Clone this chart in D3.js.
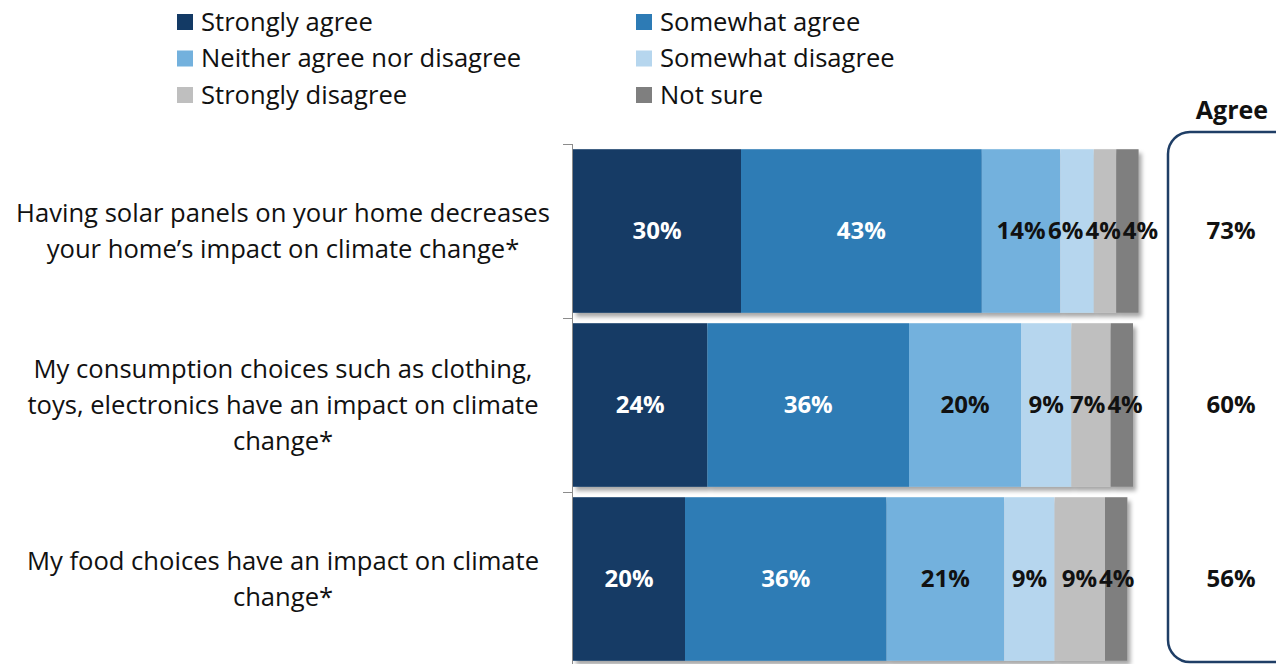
<!DOCTYPE html>
<html>
<head>
<meta charset="utf-8">
<script src="https://cdn.jsdelivr.net/npm/d3@7/dist/d3.min.js"></script>
<style>
  html, body { margin: 0; padding: 0; background: #fff; }
  svg { display: block; font-family: "Open Sans", Lato, sans-serif; }
</style>
</head>
<body>
<svg id="chart" width="1276" height="664"></svg>
<script>
// Survey statements (each line of the label is a separate entry)
const statements = [
  ["Having solar panels on your home decreases", "your home\u2019s impact on climate change*"],
  ["My consumption choices such as clothing,", "toys, electronics have an impact on climate", "change*"],
  ["My food choices have an impact on climate", "change*"]
];
const responses = ["Strongly agree", "Somewhat agree", "Neither agree nor disagree",
                   "Somewhat disagree", "Strongly disagree", "Not sure"];
// Percent of respondents per response, one array per statement
const strongAgree   = [30, 24, 20];
const somewhatAgree = [43, 36, 36];
const neither       = [14, 20, 21];
const somewhatDis   = [6, 9, 9];
const strongDis     = [4, 7, 9];
const notSure       = [4, 4, 4];
const palette = ["#133a65", "#2d7bb5", "#73b1dd", "#b6d6ee", "#bfbfbf", "#7f7f7f"];
const labelInk = ["#ffffff", "#ffffff", "#111111", "#111111", "#111111", "#111111"];

const series = [strongAgree, somewhatAgree, neither, somewhatDis, strongDis, notSure];
const rows = statements.map((lines, i) => ({
  key: "s" + i, lines, values: series.map(s => s[i])
}));

const svg = d3.select("#chart");
const defs = svg.append("defs");
const shadow = defs.append("filter").attr("id", "barShadow")
  .attr("x", "-5%").attr("y", "-5%").attr("width", "115%").attr("height", "120%");
shadow.append("feDropShadow").attr("dx", 3).attr("dy", 4)
  .attr("stdDeviation", 2.2).attr("flood-color", "#000").attr("flood-opacity", 0.35);

const x = d3.scaleLinear().domain([0, 100]).range([573, 1133]);
const y = d3.scaleBand().domain(rows.map(r => r.key))
  .range([144, 666]).paddingInner(0.06).paddingOuter(0.03);

// Legend, two columns filled row by row
const legend = svg.append("g");
responses.forEach((name, i) => {
  const col = i % 2, row = Math.floor(i / 2);
  const g = legend.append("g")
    .attr("transform", `translate(${col ? 636 : 177},${22 + row * 36.5})`);
  g.append("rect").attr("x", 0).attr("y", -8).attr("width", 16).attr("height", 16)
    .attr("fill", palette[i]);
  g.append("text").attr("x", 24).attr("dy", "0.35em")
    .attr("font-size", 25.6).attr("fill", "#111").text(name);
});

// Left axis with ticks at band boundaries
const axis = svg.append("g").attr("stroke", "#8c8c8c").attr("stroke-width", 1);
const yTop = y.range()[0], yBot = y.range()[1];
axis.append("line").attr("x1", 572.5).attr("x2", 572.5).attr("y1", yTop).attr("y2", yBot);
d3.range(rows.length + 1).map(i => yTop + i * y.step()).forEach(t => {
  axis.append("line").attr("x1", 563).attr("x2", 572.5)
    .attr("y1", Math.round(t) + 0.5).attr("y2", Math.round(t) + 0.5);
});

// Statement labels, each line centred in the label column
const cats = svg.append("g");
rows.forEach(r => {
  const cy = y(r.key) + y.bandwidth() / 2;
  const n = r.lines.length;
  r.lines.forEach((line, j) => {
    cats.append("text").attr("x", 283).attr("y", cy + (j - (n - 1) / 2) * 36)
      .attr("dy", "0.35em").attr("text-anchor", "middle")
      .attr("font-size", 25.6).attr("fill", "#111").text(line);
  });
});

// Stacked bars
const barsG = svg.append("g").attr("filter", "url(#barShadow)");
const labelsG = svg.append("g");
rows.forEach(r => {
  let acc = 0;
  const segs = r.values.map((v, k) => {
    const s = { k, v, x0: acc, x1: acc + v };
    acc += v;
    return s;
  });
  const row = barsG.append("g");
  row.selectAll("rect").data(segs).join("rect")
    .attr("x", d => x(d.x0)).attr("width", d => x(d.x1) - x(d.x0))
    .attr("y", y(r.key)).attr("height", y.bandwidth())
    .attr("fill", d => palette[d.k]);

  const cy = y(r.key) + y.bandwidth() / 2;
  const texts = labelsG.selectAll(null).data(segs).enter().append("text")
    .attr("y", cy).attr("dy", "0.35em").attr("text-anchor", "middle")
    .attr("font-size", 24).attr("font-weight", "bold")
    .attr("fill", d => labelInk[d.k]).text(d => d.v + "%");
  // Spread labels of narrow segments so they do not collide
  const items = segs.map((d, i) => ({
    cx: (x(d.x0) + x(d.x1)) / 2,
    w: texts.nodes()[i].getComputedTextLength()
  }));
  for (let it = 0; it < 60; it++) {
    for (let i = 1; i < items.length; i++) {
      const a = items[i - 1], b = items[i];
      const overlap = (a.cx + a.w / 2 + 2) - (b.cx - b.w / 2);
      if (overlap > 0) { a.cx -= overlap / 2; b.cx += overlap / 2; }
    }
  }
  texts.attr("x", (d, i) => items[i].cx);
});

// "Agree" summary column
const agree = svg.append("g");
agree.append("rect").attr("x", 1168).attr("y", 132).attr("width", 150).attr("height", 530)
  .attr("rx", 22).attr("fill", "none").attr("stroke", "#1f3e66").attr("stroke-width", 2.5);
agree.append("text").attr("x", 1232).attr("y", 110).attr("dy", "0.35em")
  .attr("text-anchor", "middle").attr("font-size", 25).attr("font-weight", "bold")
  .attr("fill", "#111").text("Agree");
rows.forEach(r => {
  agree.append("text").attr("x", 1231).attr("y", y(r.key) + y.bandwidth() / 2)
    .attr("dy", "0.35em").attr("text-anchor", "middle")
    .attr("font-size", 24).attr("font-weight", "bold").attr("fill", "#111")
    .text((r.values[0] + r.values[1]) + "%");
});
</script>
</body>
</html>
